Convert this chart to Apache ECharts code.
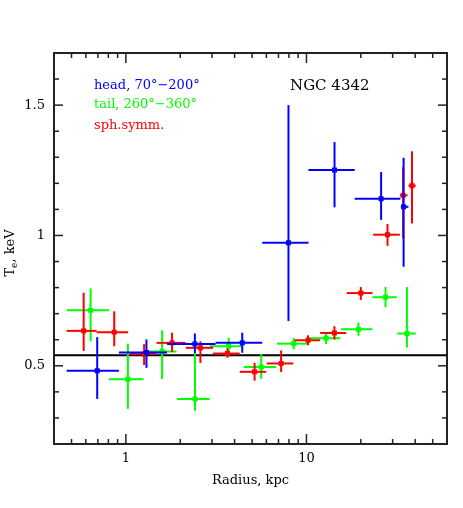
<!DOCTYPE html>
<html>
<head>
<meta charset="utf-8">
<script src="https://cdn.jsdelivr.net/npm/echarts@6/dist/echarts.min.js"></script>
<style>
  html, body { margin: 0; padding: 0; background: #fff; }
  #chart { width: 463px; height: 508px; }
</style>
</head>
<body>
<div id="chart"></div>
<script>
// rows: [r, rLo, rHi, T, TLo, THi]  (kpc, keV)
var head = [
  [0.694, 0.470, 0.915, 0.481, 0.373, 0.610],
  [1.30, 0.915, 1.69, 0.551, 0.492, 0.601],
  [2.41, 1.69, 3.14, 0.584, 0.547, 0.624],
  [4.41, 3.14, 5.69, 0.588, 0.550, 0.627],
  [7.95, 5.69, 10.26, 0.972, 0.672, 1.50],
  [14.3, 10.26, 18.5, 1.251, 1.108, 1.358],
  [25.9, 18.5, 33.1, 1.141, 1.060, 1.243],
  [34.5, 33.3, 36.7, 1.110, 0.880, 1.298]
];
var tail = [
  [0.638, 0.470, 0.806, 0.713, 0.594, 0.797],
  [1.026, 0.806, 1.253, 0.448, 0.335, 0.585],
  [1.587, 1.273, 1.907, 0.555, 0.449, 0.636],
  [2.414, 1.921, 2.91, 0.373, 0.327, 0.547],
  [3.71, 2.91, 4.44, 0.575, 0.534, 0.608],
  [5.62, 4.49, 6.80, 0.495, 0.450, 0.545],
  [8.50, 6.86, 10.17, 0.585, 0.564, 0.607],
  [12.84, 10.26, 15.4, 0.606, 0.583, 0.624],
  [19.4, 15.5, 23.2, 0.640, 0.615, 0.666],
  [27.4, 23.2, 31.6, 0.763, 0.725, 0.802],
  [36.0, 31.9, 40.3, 0.624, 0.570, 0.802]
];
var sph = [
  [0.584, 0.470, 0.689, 0.634, 0.557, 0.780],
  [0.862, 0.689, 1.03, 0.629, 0.575, 0.709],
  [1.262, 1.052, 1.477, 0.545, 0.503, 0.583],
  [1.802, 1.477, 2.137, 0.588, 0.553, 0.627],
  [2.586, 2.145, 3.04, 0.569, 0.511, 0.594],
  [3.65, 3.04, 4.27, 0.547, 0.531, 0.566],
  [5.16, 4.27, 5.99, 0.477, 0.443, 0.511],
  [7.24, 6.03, 8.46, 0.509, 0.476, 0.559],
  [10.2, 8.59, 11.9, 0.598, 0.579, 0.617],
  [14.28, 11.9, 16.6, 0.626, 0.601, 0.652],
  [20.0, 16.7, 23.2, 0.779, 0.753, 0.802],
  [28.1, 23.4, 32.9, 1.003, 0.960, 1.044],
  [34.3, 32.9, 36.3, 1.154, 0.989, 1.262],
  [38.4, 36.7, 40.3, 1.191, 1.046, 1.323]
];
var refT = 0.54;
var xTicks = [0.5, 0.6, 0.7, 0.8, 0.9, 1, 2, 3, 4, 5, 6, 7, 8, 9, 10, 20, 30, 40, 50];
var xMajor = [1, 10];
var yTicks = [0.3, 0.4, 0.5, 0.6, 0.7, 0.8, 0.9, 1.0, 1.1, 1.2, 1.3, 1.4, 1.5, 1.6];
var yMajor = [0.5, 1.0, 1.5];

var FONT = "DejaVu Serif";
var FRAME = "#222";

function errRender(color) {
  return function (params, api) {
    var c = api.coord([api.value(0), api.value(3)]);
    var l = api.coord([api.value(1), api.value(3)]);
    var r = api.coord([api.value(2), api.value(3)]);
    var b = api.coord([api.value(0), api.value(4)]);
    var t = api.coord([api.value(0), api.value(5)]);
    var st = { stroke: color, lineWidth: 2 };
    return {
      type: "group",
      children: [
        { type: "line", shape: { x1: l[0], y1: c[1], x2: r[0], y2: c[1] }, style: st },
        { type: "line", shape: { x1: c[0], y1: t[1], x2: c[0], y2: b[1] }, style: st },
        { type: "rect", shape: { x: c[0] - 2.5, y: c[1] - 2.5, width: 5, height: 5 }, style: { fill: color } }
      ]
    };
  };
}

function isMajor(v, list) {
  return list.some(function (m) { return Math.abs(m - v) < 1e-6; });
}

// tick marks drawn inward on all four sides
function xTickRender(params, api) {
  var cs = params.coordSys;
  var x = api.coord([api.value(0), 1])[0];
  var len = api.value(1) ? 10 : 5;
  var st = { stroke: FRAME, lineWidth: 1.5 };
  var yb = cs.y + cs.height;
  return {
    type: "group",
    children: [
      { type: "line", shape: { x1: x, y1: yb, x2: x, y2: yb - len }, style: st },
      { type: "line", shape: { x1: x, y1: cs.y, x2: x, y2: cs.y + len }, style: st }
    ]
  };
}
function yTickRender(params, api) {
  var cs = params.coordSys;
  var y = api.coord([1, api.value(0)])[1];
  var len = api.value(1) ? 9 : 5;
  var st = { stroke: FRAME, lineWidth: 1.5 };
  var xr = cs.x + cs.width;
  return {
    type: "group",
    children: [
      { type: "line", shape: { x1: cs.x, y1: y, x2: cs.x + len, y2: y }, style: st },
      { type: "line", shape: { x1: xr, y1: y, x2: xr - len, y2: y }, style: st }
    ]
  };
}

var myChart = echarts.init(document.getElementById("chart"));

var axisBase = {
  axisLine: { show: true, lineStyle: { color: FRAME, width: 2 } },
  axisTick: { show: false },
  splitLine: { show: false }
};

myChart.setOption({
  animation: false,
  textStyle: { fontFamily: FONT },
  grid: { left: 54, right: 16, top: 53, bottom: 64, outerBoundsMode: "none", containLabel: false },
  xAxis: [
    Object.assign({
      type: "log",
      logBase: 10,
      min: 0.4,
      max: 60,
      position: "bottom",
      name: "Radius, kpc",
      nameLocation: "middle",
      nameGap: 30,
      nameTextStyle: { color: "#000", fontSize: 13, fontFamily: FONT },
      axisLabel: {
        color: "#000",
        fontSize: 13,
        fontFamily: FONT,
        margin: 8,
        showMinLabel: false,
        showMaxLabel: false,
        formatter: function (v) {
          var lg = Math.log10(v);
          return Math.abs(lg - Math.round(lg)) < 1e-6 ? String(Math.round(v)) : "";
        }
      }
    }, axisBase),
    Object.assign({
      type: "log",
      logBase: 10,
      min: 0.4,
      max: 60,
      position: "top",
      axisLabel: { show: false }
    }, axisBase)
  ],
  yAxis: [
    Object.assign({
      type: "value",
      min: 0.2,
      max: 1.7,
      interval: 0.1,
      position: "left",
      axisLabel: {
        color: "#000",
        fontSize: 13,
        fontFamily: FONT,
        margin: 9,
        formatter: function (v) {
          if (Math.abs(v - 0.5) < 1e-6) return "0.5";
          if (Math.abs(v - 1) < 1e-6) return "1";
          if (Math.abs(v - 1.5) < 1e-6) return "1.5";
          return "";
        }
      }
    }, axisBase),
    Object.assign({
      type: "value",
      min: 0.2,
      max: 1.7,
      interval: 0.1,
      position: "right",
      axisLabel: { show: false }
    }, axisBase)
  ],
  graphic: [
    {
      type: "text",
      x: 11,
      y: 253,
      rotation: Math.PI / 2,
      style: {
        text: "T{e|e}, keV",
        fill: "#000",
        font: "13px " + FONT,
        align: "center",
        verticalAlign: "middle",
        rich: { e: { fontSize: 9, fontFamily: FONT, fill: "#000", padding: [7, 0, 0, 0] } }
      }
    },
    { type: "text", left: 94, top: 79, style: { text: "head, 70°−200°", fill: "#0000ff", font: "13px " + FONT } },
    { type: "text", left: 94, top: 98, style: { text: "tail, 260°−360°", fill: "#00ff00", font: "13px " + FONT } },
    { type: "text", left: 94, top: 119, style: { text: "sph.symm.", fill: "#ff0000", font: "13px " + FONT } },
    { type: "text", left: 290, top: 79, style: { text: "NGC 4342", fill: "#000", font: "15px " + FONT } }
  ],
  series: [
    {
      type: "custom",
      silent: true,
      renderItem: xTickRender,
      data: xTicks.map(function (v) { return [v, isMajor(v, xMajor) ? 1 : 0]; }),
      encode: { x: 0 },
      z: 1
    },
    {
      type: "custom",
      silent: true,
      renderItem: yTickRender,
      data: yTicks.map(function (v) { return [v, isMajor(v, yMajor) ? 1 : 0]; }),
      encode: { y: 0 },
      z: 1
    },
    {
      type: "line",
      name: "ref",
      symbol: "none",
      silent: true,
      lineStyle: { color: "#000", width: 2 },
      data: [[0.4, refT], [60, refT]],
      z: 2
    },
    {
      type: "custom",
      name: "tail",
      renderItem: errRender("#00ff00"),
      data: tail,
      encode: { x: [0, 1, 2], y: [3, 4, 5] },
      z: 3
    },
    {
      type: "custom",
      name: "sph.symm.",
      renderItem: errRender("#ff0000"),
      data: sph,
      encode: { x: [0, 1, 2], y: [3, 4, 5] },
      z: 4
    },
    {
      type: "custom",
      name: "head",
      renderItem: errRender("#0000ff"),
      data: head,
      encode: { x: [0, 1, 2], y: [3, 4, 5] },
      z: 5
    }
  ]
});
</script>
</body>
</html>
